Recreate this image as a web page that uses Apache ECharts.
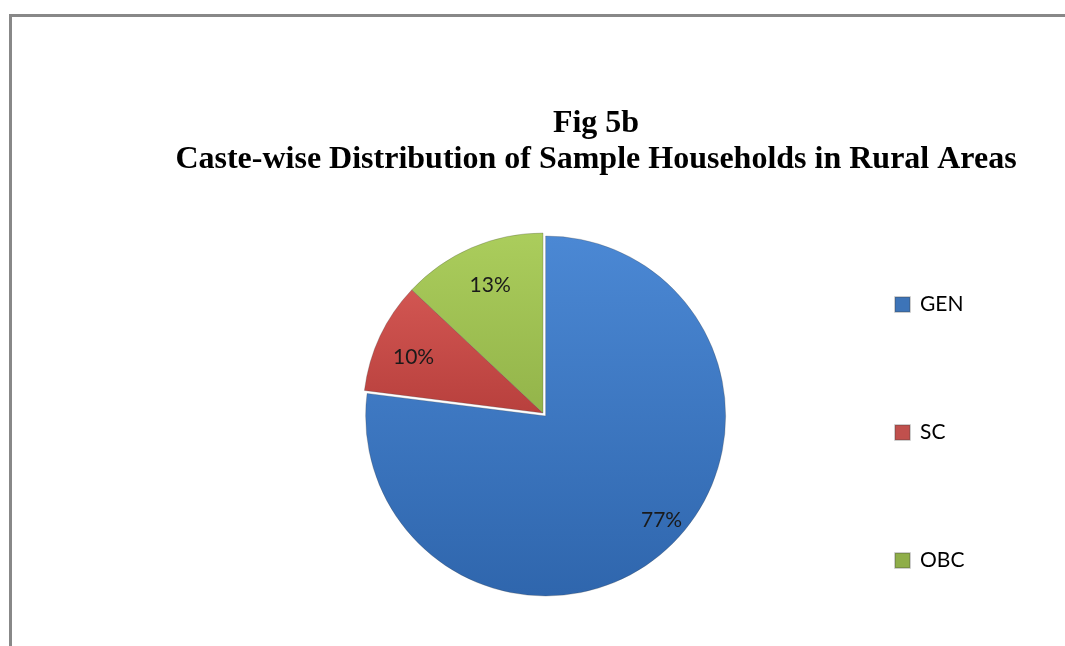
<!DOCTYPE html>
<html><head><meta charset="utf-8">
<script src="https://cdn.jsdelivr.net/npm/echarts@6/dist/echarts.min.js"></script>
<style>html,body{margin:0;padding:0;background:#fff}#c{width:1065px;height:646px}
#frame{position:absolute;left:9px;top:14px;width:1100px;height:700px;border-left:3px solid #888;border-top:3px solid #888;pointer-events:none}</style>
</head><body><div id="c"></div><div id="frame"></div>
<script>
const categories = ['GEN', 'SC', 'OBC'];
const shares = [77, 10, 13];
const titleLines = ['Fig 5b', 'Caste-wise Distribution of Sample Households in Rural Areas'];

const fills = [
  {type:'linear',x:0,y:0,x2:0,y2:1,colorStops:[{offset:0,color:'#4b88d4'},{offset:1,color:'#2f66ad'}]},
  {type:'linear',x:0,y:0,x2:0,y2:1,colorStops:[{offset:0,color:'#d25652'},{offset:1,color:'#b8403d'}]},
  {type:'linear',x:0,y:0,x2:0,y2:1,colorStops:[{offset:0,color:'#abcd5c'},{offset:1,color:'#93b44a'}]}
];
const legendColors = ['#3d74b8', '#c0504d', '#8fae49'];

const chart = echarts.init(document.getElementById('c'));
chart.setOption({
  animation: false,
  title: {
    text: titleLines.join('\n'),
    left: 591, top: 101, textAlign: 'center',
    textStyle: {fontFamily: 'Liberation Serif', fontWeight: 'bold', fontSize: 32, lineHeight: 36, color: '#000'}
  },
  legend: {
    orient: 'vertical', left: 889, top: 289,
    itemWidth: 15, itemHeight: 15, itemGap: 107, icon: 'rect',
    textStyle: {fontFamily: 'Lato', fontSize: 21, color: '#000', padding: [0,0,0,5]},
    data: categories.map((c, i) => ({name: c, itemStyle: {color: legendColors[i]}}))
  },
  series: [
    {
      type: 'pie', center: [543, 413], radius: 180, startAngle: 90, clockwise: true,
      selectedMode: 'single', selectedOffset: 4,
      label: {show: false}, labelLine: {show: false},
      emphasis: {disabled: true},
      itemStyle: {borderColor: 'rgba(60,60,60,0.25)', borderWidth: 1},
      data: categories.map((c, i) => ({name: c, value: shares[i], selected: i === 0, itemStyle: {color: fills[i]}}))
    },
    {
      type: 'pie', center: [543, 413], radius: 280, startAngle: 90, clockwise: true,
      silent: true, legendHoverLink: false,
      itemStyle: {color: 'rgba(0,0,0,0)'},
      labelLine: {show: false},
      label: {show: true, position: 'inside', formatter: '{c}%', fontFamily: 'Lato', fontSize: 21, color: '#1a1a1a'},
      data: categories.map((c, i) => ({name: c, value: shares[i], label: i === 0 ? {offset: [24, 0]} : (i === 1 ? {offset: [0, 5]} : {offset: [4, 3]})}))
    }
  ]
});
</script></body></html>
